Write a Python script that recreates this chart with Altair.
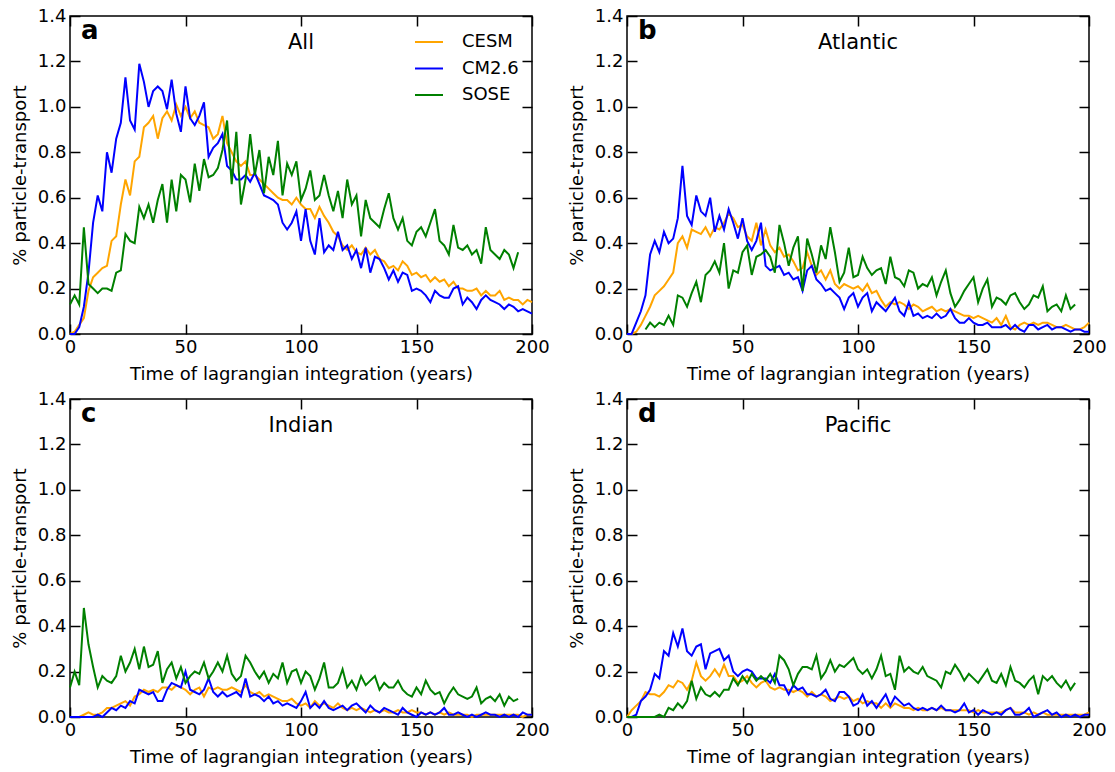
import altair as alt
import pandas as pd

MODELS = ["CESM", "CM2.6", "SOSE"]
COLORS = ["#FFA500", "#0000FF", "#008000"]
X_TICKS = [0, 50, 100, 150, 200]
Y_TICKS = [0.0, 0.2, 0.4, 0.6, 0.8, 1.0, 1.2, 1.4]
STEP = 2  # years between stored samples

# ---------------- panel a : All ----------------
CESM_A = [0.00, 0.01, 0.04, 0.07, 0.19, 0.25, 0.27, 0.29, 0.30, 0.41,
          0.43, 0.57, 0.68, 0.61, 0.76, 0.78, 0.91, 0.93, 0.96, 0.86,
          0.95, 0.98, 0.94, 1.01, 0.96, 1.00, 0.95, 0.98, 0.93, 0.92,
          0.91, 0.86, 0.88, 0.96, 0.84, 0.80, 0.76, 0.74, 0.76, 0.70,
          0.70, 0.68, 0.66, 0.64, 0.62, 0.60, 0.59, 0.59, 0.57, 0.60,
          0.57, 0.55, 0.55, 0.51, 0.56, 0.52, 0.49, 0.45, 0.43, 0.39,
          0.37, 0.39, 0.36, 0.35, 0.38, 0.35, 0.37, 0.33, 0.32, 0.29,
          0.30, 0.28, 0.32, 0.30, 0.26, 0.27, 0.25, 0.26, 0.23, 0.25,
          0.23, 0.24, 0.21, 0.23, 0.20, 0.20, 0.19, 0.19, 0.20, 0.17,
          0.19, 0.17, 0.17, 0.19, 0.15, 0.16, 0.15, 0.15, 0.13, 0.15,
          0.14]
CM26_A = [0.00, 0.00, 0.03, 0.12, 0.27, 0.49, 0.61, 0.54, 0.80, 0.71,
          0.86, 0.93, 1.13, 0.94, 0.90, 1.19, 1.11, 1.00, 1.07, 1.09,
          1.07, 0.99, 1.12, 0.97, 0.89, 1.09, 0.95, 0.92, 0.96, 1.02,
          0.78, 0.82, 0.84, 0.88, 0.74, 0.72, 0.68, 0.68, 0.70, 0.67,
          0.71, 0.66, 0.61, 0.60, 0.59, 0.57, 0.49, 0.46, 0.49, 0.54,
          0.41, 0.55, 0.41, 0.35, 0.51, 0.36, 0.39, 0.37, 0.45, 0.37,
          0.39, 0.33, 0.37, 0.29, 0.38, 0.27, 0.34, 0.33, 0.29, 0.24,
          0.28, 0.23, 0.27, 0.26, 0.19, 0.20, 0.19, 0.17, 0.14, 0.19,
          0.17, 0.16, 0.16, 0.20, 0.21, 0.13, 0.16, 0.14, 0.11, 0.15,
          0.17, 0.15, 0.14, 0.13, 0.11, 0.13, 0.12, 0.10, 0.11, 0.10,
          0.09]
SOSE_A = [0.13, 0.17, 0.13, 0.47, 0.22, 0.20, 0.18, 0.20, 0.20, 0.19,
          0.27, 0.28, 0.44, 0.41, 0.40, 0.56, 0.51, 0.57, 0.49, 0.59,
          0.66, 0.49, 0.68, 0.54, 0.70, 0.68, 0.58, 0.75, 0.63, 0.77,
          0.69, 0.70, 0.73, 0.81, 0.94, 0.66, 0.89, 0.57, 0.68, 0.88,
          0.70, 0.81, 0.62, 0.78, 0.70, 0.85, 0.61, 0.75, 0.70, 0.76,
          0.59, 0.64, 0.72, 0.59, 0.61, 0.70, 0.61, 0.54, 0.63, 0.51,
          0.68, 0.57, 0.61, 0.43, 0.59, 0.51, 0.49, 0.47, 0.55, 0.62,
          0.51, 0.46, 0.51, 0.41, 0.39, 0.45, 0.47, 0.43, 0.49, 0.55,
          0.41, 0.39, 0.35, 0.48, 0.38, 0.37, 0.39, 0.35, 0.37, 0.31,
          0.47, 0.37, 0.35, 0.33, 0.37, 0.35, 0.29, 0.36]

# ---------------- panel b : Atlantic ----------------
CESM_B = [0.00, 0.00, 0.01, 0.04, 0.08, 0.12, 0.17, 0.19, 0.21, 0.24,
          0.27, 0.40, 0.43, 0.38, 0.46, 0.45, 0.44, 0.47, 0.43, 0.47,
          0.46, 0.49, 0.53, 0.51, 0.47, 0.48, 0.43, 0.41, 0.49, 0.39,
          0.46, 0.39, 0.36, 0.38, 0.34, 0.35, 0.32, 0.28, 0.29, 0.36,
          0.30, 0.26, 0.28, 0.24, 0.28, 0.22, 0.20, 0.22, 0.21, 0.20,
          0.21, 0.19, 0.22, 0.18, 0.19, 0.15, 0.12, 0.14, 0.13, 0.14,
          0.13, 0.11, 0.13, 0.12, 0.10, 0.11, 0.12, 0.10, 0.11, 0.10,
          0.11, 0.10, 0.09, 0.08, 0.08, 0.07, 0.08, 0.07, 0.06, 0.05,
          0.07, 0.04, 0.08, 0.03, 0.02, 0.04, 0.05, 0.04, 0.05, 0.04,
          0.05, 0.05, 0.04, 0.03, 0.03, 0.04, 0.03, 0.02, 0.02, 0.03,
          0.05]
CM26_B = [0.00, 0.00, 0.05, 0.10, 0.17, 0.35, 0.41, 0.36, 0.45, 0.40,
          0.42, 0.51, 0.74, 0.52, 0.48, 0.61, 0.54, 0.52, 0.60, 0.45,
          0.52, 0.46, 0.55, 0.49, 0.42, 0.51, 0.41, 0.37, 0.41, 0.49,
          0.30, 0.28, 0.29, 0.30, 0.26, 0.27, 0.24, 0.25, 0.19, 0.28,
          0.30, 0.24, 0.22, 0.19, 0.20, 0.18, 0.16, 0.11, 0.16, 0.18,
          0.12, 0.16, 0.18, 0.10, 0.14, 0.12, 0.10, 0.13, 0.16, 0.10,
          0.08, 0.14, 0.08, 0.09, 0.07, 0.08, 0.07, 0.09, 0.07, 0.08,
          0.11, 0.07, 0.05, 0.05, 0.07, 0.05, 0.04, 0.04, 0.05, 0.03,
          0.03, 0.03, 0.04, 0.02, 0.04, 0.02, 0.01, 0.04, 0.04, 0.02,
          0.03, 0.04, 0.02, 0.03, 0.03, 0.02, 0.01, 0.02, 0.02, 0.01,
          0.01]
SOSE_B_START = 8
SOSE_B = [0.02, 0.05, 0.03, 0.05, 0.04, 0.08, 0.04, 0.17, 0.16, 0.12,
          0.18, 0.23, 0.14, 0.26, 0.28, 0.32, 0.27, 0.40, 0.20, 0.28,
          0.27, 0.36, 0.39, 0.26, 0.34, 0.35, 0.37, 0.34, 0.27, 0.48,
          0.40, 0.30, 0.38, 0.43, 0.19, 0.42, 0.35, 0.27, 0.39, 0.33,
          0.47, 0.36, 0.23, 0.27, 0.38, 0.25, 0.26, 0.34, 0.29, 0.26,
          0.28, 0.29, 0.22, 0.34, 0.25, 0.24, 0.21, 0.28, 0.27, 0.20,
          0.22, 0.21, 0.25, 0.17, 0.23, 0.28, 0.18, 0.12, 0.15, 0.19,
          0.22, 0.25, 0.14, 0.20, 0.24, 0.12, 0.16, 0.15, 0.13, 0.17,
          0.18, 0.14, 0.11, 0.13, 0.17, 0.16, 0.21, 0.10, 0.12, 0.13,
          0.10, 0.17, 0.11, 0.13]

# ---------------- panel c : Indian ----------------
CESM_C = [0.00, 0.00, 0.00, 0.01, 0.02, 0.01, 0.01, 0.02, 0.04, 0.04,
          0.05, 0.06, 0.07, 0.05, 0.09, 0.10, 0.12, 0.11, 0.12, 0.11,
          0.13, 0.13, 0.12, 0.14, 0.13, 0.12, 0.10, 0.12, 0.13, 0.09,
          0.13, 0.12, 0.13, 0.12, 0.12, 0.13, 0.12, 0.11, 0.14, 0.11,
          0.10, 0.11, 0.09, 0.10, 0.09, 0.08, 0.07, 0.07, 0.08, 0.06,
          0.05, 0.06, 0.04, 0.07, 0.05, 0.06, 0.05, 0.04, 0.06, 0.04,
          0.03, 0.04, 0.03, 0.04, 0.03, 0.02, 0.03, 0.02, 0.03, 0.02,
          0.02, 0.03, 0.02, 0.02, 0.03, 0.02, 0.02, 0.01, 0.02, 0.01,
          0.02, 0.01, 0.02, 0.01, 0.01, 0.01, 0.01, 0.00, 0.01, 0.01,
          0.01, 0.01, 0.01, 0.01, 0.01, 0.01, 0.01, 0.01, 0.00, 0.01,
          0.01]
CM26_C = [0.00, 0.00, 0.00, 0.00, 0.00, 0.00, 0.01, 0.00, 0.02, 0.04,
          0.03, 0.05, 0.04, 0.07, 0.06, 0.12, 0.11, 0.10, 0.11, 0.07,
          0.07, 0.12, 0.15, 0.14, 0.13, 0.20, 0.12, 0.11, 0.10, 0.12,
          0.17, 0.11, 0.09, 0.11, 0.09, 0.10, 0.11, 0.09, 0.17, 0.09,
          0.10, 0.09, 0.07, 0.09, 0.06, 0.07, 0.05, 0.06, 0.05, 0.04,
          0.07, 0.11, 0.04, 0.06, 0.04, 0.07, 0.04, 0.03, 0.04, 0.05,
          0.03, 0.05, 0.06, 0.04, 0.02, 0.05, 0.03, 0.02, 0.04, 0.03,
          0.02, 0.01, 0.04, 0.02, 0.01, 0.00, 0.02, 0.01, 0.02, 0.01,
          0.02, 0.04, 0.01, 0.01, 0.02, 0.01, 0.00, 0.01, 0.00, 0.01,
          0.02, 0.01, 0.01, 0.00, 0.01, 0.00, 0.01, 0.00, 0.02, 0.01,
          0.01]
SOSE_C = [0.13, 0.20, 0.14, 0.48, 0.32, 0.22, 0.13, 0.18, 0.16, 0.15,
          0.18, 0.27, 0.20, 0.24, 0.30, 0.21, 0.31, 0.22, 0.23, 0.29,
          0.15, 0.21, 0.24, 0.17, 0.22, 0.15, 0.18, 0.20, 0.19, 0.24,
          0.17, 0.20, 0.24, 0.20, 0.27, 0.19, 0.16, 0.18, 0.27, 0.24,
          0.20, 0.17, 0.20, 0.15, 0.19, 0.17, 0.24, 0.15, 0.20, 0.21,
          0.15, 0.20, 0.18, 0.12, 0.17, 0.24, 0.13, 0.13, 0.15, 0.21,
          0.13, 0.16, 0.12, 0.18, 0.14, 0.16, 0.18, 0.12, 0.15, 0.13,
          0.13, 0.16, 0.12, 0.10, 0.09, 0.13, 0.10, 0.16, 0.12, 0.10,
          0.11, 0.06, 0.10, 0.13, 0.10, 0.09, 0.08, 0.09, 0.13, 0.06,
          0.08, 0.09, 0.07, 0.10, 0.05, 0.09, 0.07, 0.08]

# ---------------- panel d : Pacific ----------------
CESM_D = [0.00, 0.03, 0.05, 0.07, 0.11, 0.10, 0.10, 0.09, 0.11, 0.14,
          0.13, 0.16, 0.15, 0.12, 0.16, 0.24, 0.18, 0.16, 0.18, 0.21,
          0.18, 0.23, 0.18, 0.18, 0.15, 0.16, 0.18, 0.15, 0.13, 0.15,
          0.16, 0.13, 0.12, 0.13, 0.12, 0.12, 0.11, 0.12, 0.11, 0.09,
          0.11, 0.09, 0.10, 0.09, 0.07, 0.08, 0.09, 0.08, 0.09, 0.07,
          0.08, 0.06, 0.07, 0.06, 0.06, 0.04, 0.06, 0.04, 0.06, 0.05,
          0.04, 0.04, 0.03, 0.04, 0.03, 0.03, 0.04, 0.03, 0.04, 0.03,
          0.03, 0.03, 0.03, 0.03, 0.03, 0.02, 0.03, 0.02, 0.02, 0.02,
          0.02, 0.02, 0.03, 0.04, 0.02, 0.02, 0.02, 0.01, 0.02, 0.01,
          0.02, 0.01, 0.01, 0.01, 0.01, 0.01, 0.01, 0.01, 0.01, 0.01,
          0.02]
CM26_D = [0.00, 0.00, 0.01, 0.07, 0.09, 0.12, 0.19, 0.17, 0.29, 0.27,
          0.37, 0.31, 0.39, 0.29, 0.27, 0.31, 0.32, 0.21, 0.28, 0.29,
          0.30, 0.25, 0.27, 0.20, 0.18, 0.20, 0.21, 0.20, 0.17, 0.17,
          0.17, 0.15, 0.19, 0.14, 0.14, 0.10, 0.14, 0.12, 0.13, 0.10,
          0.10, 0.09, 0.10, 0.12, 0.08, 0.07, 0.11, 0.11, 0.09, 0.05,
          0.06, 0.10, 0.05, 0.07, 0.04, 0.07, 0.10, 0.05, 0.09, 0.07,
          0.05, 0.06, 0.04, 0.03, 0.04, 0.03, 0.04, 0.03, 0.05, 0.03,
          0.03, 0.02, 0.03, 0.06, 0.02, 0.03, 0.01, 0.03, 0.02, 0.01,
          0.02, 0.01, 0.03, 0.04, 0.01, 0.01, 0.02, 0.04, 0.00, 0.01,
          0.02, 0.03, 0.01, 0.02, 0.00, 0.01, 0.00, 0.01, 0.00, 0.01,
          0.01]
SOSE_D = [0.00, 0.00, 0.00, 0.00, 0.00, 0.00, 0.00, 0.01, 0.00, 0.04,
          0.03, 0.06, 0.04, 0.07, 0.16, 0.08, 0.13, 0.10, 0.09, 0.11,
          0.09, 0.12, 0.12, 0.17, 0.14, 0.18, 0.15, 0.19, 0.16, 0.18,
          0.16, 0.19, 0.15, 0.27, 0.25, 0.21, 0.14, 0.19, 0.22, 0.22,
          0.21, 0.27, 0.17, 0.20, 0.25, 0.20, 0.23, 0.22, 0.24, 0.26,
          0.21, 0.19, 0.21, 0.17, 0.21, 0.27, 0.18, 0.19, 0.12, 0.27,
          0.20, 0.22, 0.20, 0.19, 0.22, 0.18, 0.17, 0.16, 0.13, 0.20,
          0.19, 0.23, 0.20, 0.16, 0.19, 0.17, 0.15, 0.18, 0.21, 0.16,
          0.15, 0.19, 0.14, 0.22, 0.16, 0.15, 0.13, 0.16, 0.18, 0.10,
          0.18, 0.16, 0.18, 0.15, 0.13, 0.16, 0.12, 0.15]

PANELS = [
    ("a", "All", [("CESM", 0, CESM_A), ("CM2.6", 0, CM26_A), ("SOSE", 0, SOSE_A)], True),
    ("b", "Atlantic", [("CESM", 0, CESM_B), ("CM2.6", 0, CM26_B), ("SOSE", SOSE_B_START, SOSE_B)], False),
    ("c", "Indian", [("CESM", 0, CESM_C), ("CM2.6", 0, CM26_C), ("SOSE", 0, SOSE_C)], False),
    ("d", "Pacific", [("CESM", 0, CESM_D), ("CM2.6", 0, CM26_D), ("SOSE", 0, SOSE_D)], False),
]

FONT = "DejaVu Sans"
W, H = 462, 318
TICK = 10


def make_df(series):
    rows = []
    for model, start, vals in series:
        for i, v in enumerate(vals):
            rows.append({"year": start + STEP * i, "value": v, "model": model})
    return pd.DataFrame(rows)


def panel(letter, title, series, show_legend):
    df = make_df(series)
    xscale = alt.Scale(domain=[0, 200], nice=False, zero=False)
    yscale = alt.Scale(domain=[0, 1.4], nice=False, zero=False)
    if show_legend:
        legend = alt.Legend(orient="none", legendX=344, legendY=11, title=None,
                            symbolType="stroke", symbolSize=784, symbolStrokeWidth=2,
                            labelFont=FONT, labelFontSize=18, labelColor="black",
                            labelOffset=18, rowPadding=2.5, padding=0)
    else:
        legend = None
    lines = alt.Chart(df).mark_line(strokeWidth=2).encode(
        x=alt.X("year:Q", scale=xscale,
                axis=alt.Axis(orient="bottom", values=X_TICKS, format="d",
                              title="Time of lagrangian integration (years)",
                              offset=-TICK, tickSize=TICK, labelPadding=4,
                              labelFlush=False, labelOverlap=False,
                              titlePadding=9, domain=False, grid=False)),
        y=alt.Y("value:Q", scale=yscale,
                axis=alt.Axis(orient="left", values=Y_TICKS, format=".1f",
                              title="% particle-transport",
                              offset=-TICK, tickSize=TICK, labelPadding=4,
                              labelFlush=False, labelOverlap=False,
                              titlePadding=8, domain=False, grid=False)),
        color=alt.Color("model:N", scale=alt.Scale(domain=MODELS, range=COLORS),
                        legend=legend),
    )
    ghost = alt.Chart(df).mark_point(opacity=0).encode(
        x=alt.X("year:Q", scale=xscale,
                axis=alt.Axis(orient="top", values=X_TICKS, labels=False, title=None,
                              offset=-TICK, tickSize=TICK, domain=False, grid=False)),
        y=alt.Y("value:Q", scale=yscale,
                axis=alt.Axis(orient="right", values=Y_TICKS, labels=False, title=None,
                              offset=-TICK, tickSize=TICK, domain=False, grid=False)),
    )
    letter_t = alt.Chart(pd.DataFrame({"t": [letter]})).mark_text(
        font=FONT, fontSize=26, fontWeight="bold", align="left",
        baseline="alphabetic", color="black"
    ).encode(text="t:N", x=alt.value(11), y=alt.value(23))
    title_t = alt.Chart(pd.DataFrame({"t": [title]})).mark_text(
        font=FONT, fontSize=21, align="center", baseline="alphabetic", color="black"
    ).encode(text="t:N", x=alt.value(W / 2), y=alt.value(33))
    return alt.layer(lines, ghost, letter_t, title_t).resolve_axis(
        x="independent", y="independent"
    ).properties(width=W, height=H)


panels = [panel(*p) for p in PANELS]

chart = alt.concat(
    *panels, columns=2, spacing={"row": 65, "column": 95}, bounds="flush"
).resolve_scale(
    color="independent"
).properties(
    padding={"left": 10, "top": 6, "right": 5, "bottom": 5},
    background="white",
).configure_view(
    stroke="black", strokeWidth=1.5
).configure_axis(
    labelFont=FONT, labelFontSize=18, labelColor="black",
    titleFont=FONT, titleFontSize=18, titleColor="black", titleFontWeight="normal",
    tickColor="black", tickWidth=1.5
)

chart.save("out.html", embed_options={"renderer": "svg", "actions": False})
